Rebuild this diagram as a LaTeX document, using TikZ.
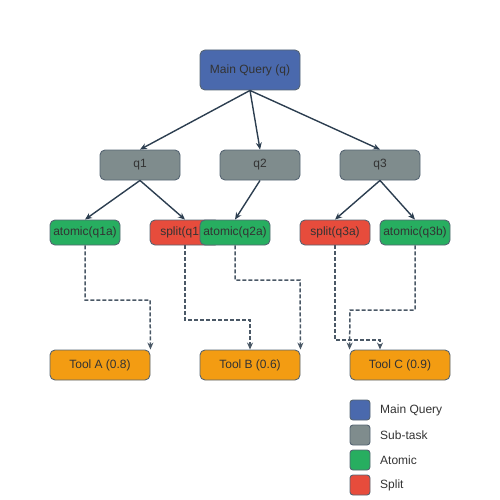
\documentclass[tikz,border=0pt]{standalone}
\usepackage{fontspec}
\setmainfont{Liberation Sans}
\usetikzlibrary{arrows.meta}
\definecolor{cmain}{HTML}{4A69AD}
\definecolor{csub}{HTML}{7F8C8D}
\definecolor{catom}{HTML}{27AE60}
\definecolor{csplit}{HTML}{E74C3C}
\definecolor{ctool}{HTML}{F39C12}
\definecolor{cedge}{HTML}{2C3E50}
\definecolor{cdash}{HTML}{4A5866}
\definecolor{ctext}{HTML}{333333}
\tikzset{
  box/.style={draw=cedge!80, line width=0.9pt, rounded corners=5pt, inner sep=0pt, text=ctext, font=\fontsize{12}{14}\selectfont},
  qbox/.style={box, minimum width=80pt, minimum height=30pt, fill=csub},
  leaf/.style={box, minimum width=70pt, minimum height=25pt},
  tool/.style={box, minimum width=100pt, minimum height=30pt, fill=ctool},
  solidarrow/.style={draw=cedge, line width=1.4pt, -{Stealth[length=7pt,width=6pt]}},
  dasharrow/.style={draw=cdash, line width=1.5pt, dash pattern=on 4pt off 2pt, -{Stealth[length=7pt,width=6pt]}},
  legsq/.style={box, minimum width=20pt, minimum height=20pt, rounded corners=3pt},
  legtxt/.style={anchor=west, text=ctext, font=\fontsize{12}{14}\selectfont, inner sep=0pt}
}
\begin{document}
\begin{tikzpicture}[x=1pt,y=-1pt]
\useasboundingbox (0,0) rectangle (500,500);
\node[box, fill=cmain, minimum width=100pt, minimum height=40pt] (main) at (250,70) {Main Query (q)};
\node[qbox] (q1) at (140,165) {q1};
\node[qbox] (q2) at (260,165) {q2};
\node[qbox] (q3) at (380,165) {q3};
\node[leaf, fill=catom] (a1) at (85,232.5) {atomic(q1a)};
\node[leaf, fill=csplit] (s1) at (185,232.5) {split(q1b)};
\node[leaf, fill=catom] (a2) at (235,232.5) {atomic(q2a)};
\node[leaf, fill=csplit] (s3) at (335,232.5) {split(q3a)};
\node[leaf, fill=catom] (a3) at (415,232.5) {atomic(q3b)};
\node[tool] (tA) at (100,365) {Tool A (0.8)};
\node[tool] (tB) at (250,365) {Tool B (0.6)};
\node[tool] (tC) at (400,365) {Tool C (0.9)};
% solid arrows
\draw[solidarrow] (main.south) -- (q1.north);
\draw[solidarrow] (main.south) -- (q2.north);
\draw[solidarrow] (main.south) -- (q3.north);
\draw[solidarrow] (q1.south) -- (a1.north);
\draw[solidarrow] (q1.south) -- (s1.north);
\draw[solidarrow] (q2.south) -- (a2.north);
\draw[solidarrow] (q3.south) -- (s3.north);
\draw[solidarrow] (q3.south) -- (a3.north);
% dashed arrows
\draw[dasharrow] (a1.south) |- (150,300) -- (tA.north east);
\draw[dasharrow] (s1.south) |- (250,320) -- (tB.north);
\draw[dasharrow] (a2.south) |- (300,280) -- (tB.north east);
\draw[dasharrow] (s3.south) |- (380,340) -- ([xshift=-20pt]tC.north);
\draw[dasharrow] (a3.south) |- (350,310) -- (tC.north west);
% legend
\node[legsq, fill=cmain] (l1) at (360,410) {};
\node[legtxt] (t1) at (380,410) {Main Query};
\node[legsq, fill=csub] (l2) at (360,435) {};
\node[legtxt] (t2) at (380,435) {Sub-task};
\node[legsq, fill=catom] (l3) at (360,460) {};
\node[legtxt] (t3) at (380,460) {Atomic};
\node[legsq, fill=csplit] (l4) at (360,485) {};
\node[legtxt] (t4) at (380,485) {Split};
\end{tikzpicture}
\end{document}
